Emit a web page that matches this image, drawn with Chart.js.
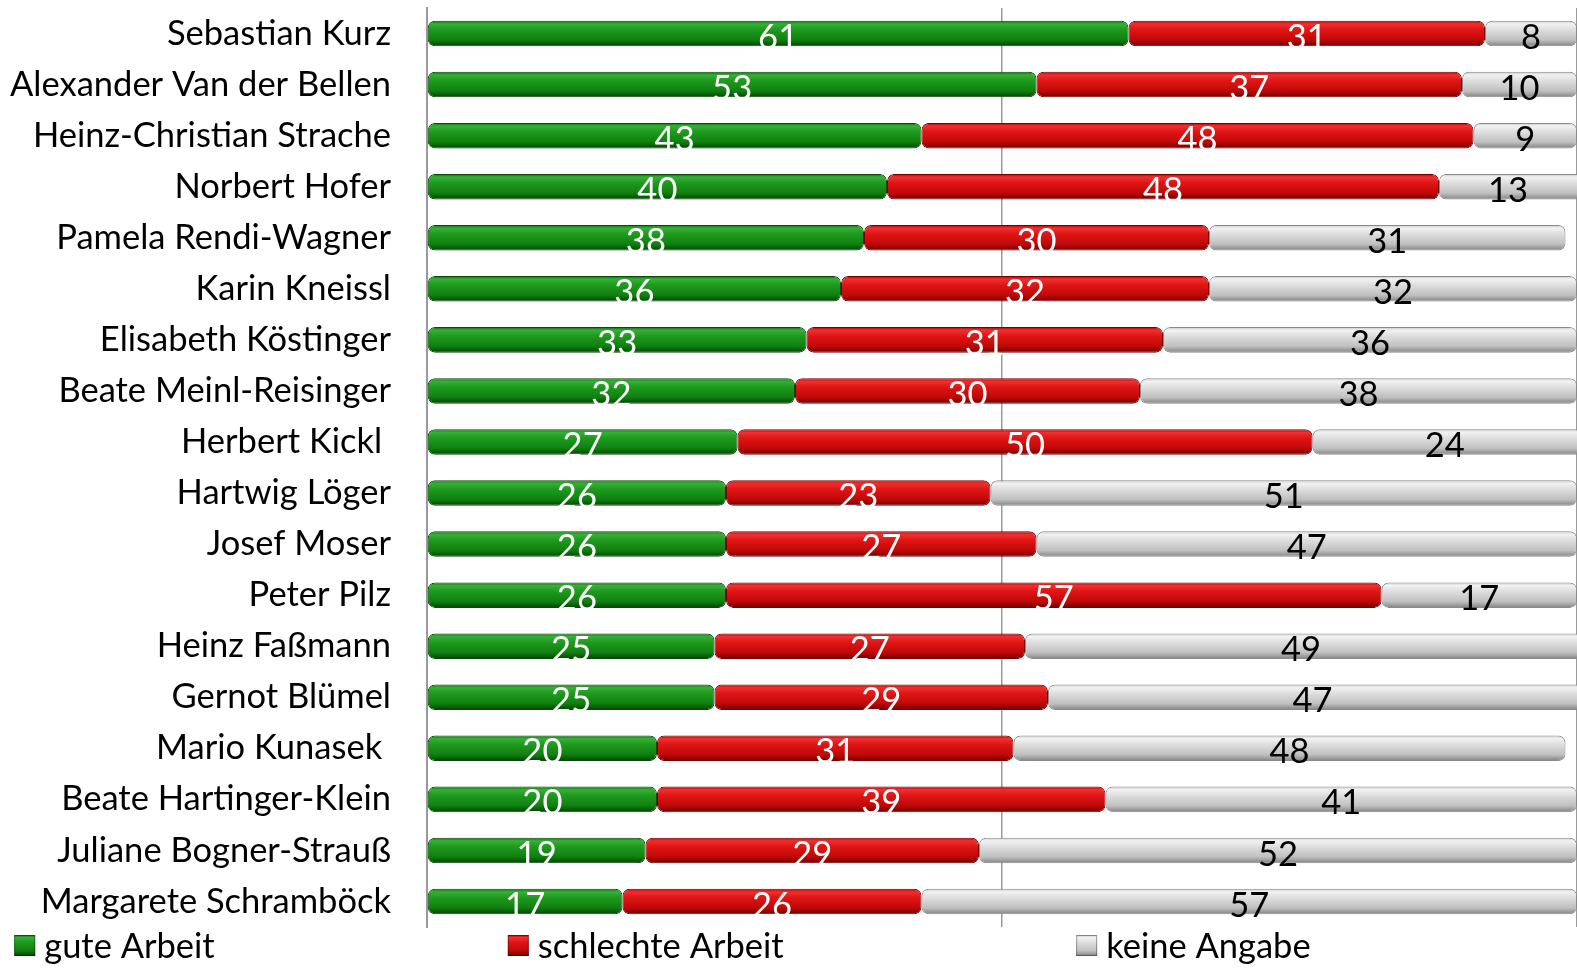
<!DOCTYPE html>
<html>
<head>
<meta charset="utf-8">
<title>Bewertung der Regierungsmitglieder</title>
<script src="https://cdn.jsdelivr.net/npm/chart.js@4.4.1/dist/chart.umd.min.js"></script>
<style>
  html, body { margin: 0; padding: 0; background: #fff; }
  #wrap { position: relative; width: 1577px; height: 968px; }
</style>
</head>
<body>
<div id="wrap"><canvas id="chart"></canvas></div>
<script>
const categories = [
  'Sebastian Kurz', 'Alexander Van der Bellen', 'Heinz-Christian Strache', 'Norbert Hofer',
  'Pamela Rendi-Wagner', 'Karin Kneissl', 'Elisabeth Köstinger', 'Beate Meinl-Reisinger',
  'Herbert Kickl ', 'Hartwig Löger', 'Josef Moser', 'Peter Pilz', 'Heinz Faßmann',
  'Gernot Blümel', 'Mario Kunasek ', 'Beate Hartinger-Klein', 'Juliane Bogner-Strauß',
  'Margarete Schramböck'
];
const seriesNames = ['gute Arbeit', 'schlechte Arbeit', 'keine Angabe'];
const goodWork = [61, 53, 43, 40, 38, 36, 33, 32, 27, 26, 26, 26, 25, 25, 20, 20, 19, 17];
const badWork  = [31, 37, 48, 48, 30, 32, 31, 30, 50, 23, 27, 57, 27, 29, 31, 39, 29, 26];
const noAnswer = [8, 10, 9, 13, 31, 32, 36, 38, 24, 51, 47, 17, 49, 47, 48, 41, 52, 57];

const FONT = 'Lato, "Open Sans", sans-serif';
const FONT_SIZE = 34.5;

// cylinder-like shading for each series
const greenStops = [[0, '#0d6a0d'], [0.12, '#36b036'], [0.35, '#1f9a1f'], [0.75, '#0f800f'], [1, '#044204']];
const redStops   = [[0, '#b00000'], [0.12, '#f03030'], [0.35, '#e01515'], [0.75, '#c00808'], [1, '#6e0000']];
const grayStops  = [[0, '#c4c4c4'], [0.12, '#f2f2f2'], [0.35, '#dedede'], [0.75, '#c0c0c0'], [1, '#828282']];

function barGradient(stops) {
  return (ctx) => {
    const chart = ctx.chart;
    const yScale = chart.scales.y;
    if (ctx.type !== 'data' || !yScale || !chart.chartArea) return stops[2][1];
    const yc = yScale.getPixelForValue(ctx.dataIndex);
    const h = yScale.height / categories.length * 0.5;
    const g = chart.ctx.createLinearGradient(0, yc - h / 2, 0, yc + h / 2);
    stops.forEach(([o, c]) => g.addColorStop(o, c));
    return g;
  };
}

const radius = { topLeft: 7, topRight: 7, bottomLeft: 7, bottomRight: 7 };

// value labels centred on the visible part of each segment
const valueLabels = {
  id: 'valueLabels',
  afterDatasetsDraw(chart) {
    const { ctx, chartArea } = chart;
    const right = Math.min(chartArea.right, chart.width);
    ctx.save();
    ctx.font = FONT_SIZE + 'px ' + FONT;
    ctx.textAlign = 'center';
    ctx.textBaseline = 'middle';
    chart.data.datasets.forEach((ds, di) => {
      const meta = chart.getDatasetMeta(di);
      ctx.fillStyle = di === 2 ? '#000' : '#fff';
      meta.data.forEach((el, i) => {
        const a = Math.max(chartArea.left, Math.min(el.base, el.x));
        const b = Math.min(right, Math.max(el.base, el.x));
        ctx.fillText(String(ds.data[i]), (a + b) / 2, el.y + 4);
      });
    });
    ctx.restore();
  }
};

// legend row under the plot
const bottomLegend = {
  id: 'bottomLegend',
  afterDraw(chart) {
    const { ctx } = chart;
    const stops = [greenStops, redStops, grayStops];
    const starts = [0.009, 0.322, 0.6824];
    const y = 945;
    ctx.save();
    ctx.font = FONT_SIZE + 'px ' + FONT;
    ctx.textBaseline = 'middle';
    ctx.textAlign = 'left';
    seriesNames.forEach((name, i) => {
      const x = chart.width * starts[i];
      const g = ctx.createLinearGradient(0, y - 10, 0, y + 11);
      stops[i].forEach(([o, c]) => g.addColorStop(o, c));
      ctx.fillStyle = g;
      ctx.fillRect(x, y - 10, 21, 21);
      ctx.strokeStyle = 'rgba(0,0,0,0.35)';
      ctx.lineWidth = 1;
      ctx.strokeRect(x + 0.5, y - 9.5, 20, 20);
      ctx.fillStyle = '#000';
      ctx.fillText(name, x + 30, y + 2);
    });
    ctx.restore();
  }
};

new Chart(document.getElementById('chart'), {
  type: 'bar',
  data: {
    labels: categories,
    datasets: [
      { label: seriesNames[0], data: goodWork, backgroundColor: barGradient(greenStops), borderColor: '#0a4a0a' },
      { label: seriesNames[1], data: badWork, backgroundColor: barGradient(redStops), borderColor: '#7a0000' },
      { label: seriesNames[2], data: noAnswer, backgroundColor: barGradient(grayStops), borderColor: '#8a8a8a' }
    ]
  },
  options: {
    indexAxis: 'y',
    responsive: true,
    maintainAspectRatio: false,
    animation: false,
    layout: { padding: { left: 0, right: -5, top: 8, bottom: 41 } },
    datasets: {
      bar: {
        categoryPercentage: 1,
        barPercentage: 0.5,
        borderWidth: 1,
        borderRadius: radius,
        borderSkipped: false
      }
    },
    scales: {
      x: {
        stacked: true,
        min: 0,
        max: 100,
        afterFit(scale) { scale.height = 0; scale.paddingLeft = 0; scale.paddingRight = 0; },
        ticks: { display: false, stepSize: 50 },
        grid: { color: '#9a9a9a', lineWidth: 1.5, drawTicks: false },
        border: { display: false }
      },
      y: {
        stacked: true,
        afterFit(scale) { scale.width = 427; scale.paddingTop = 0; scale.paddingBottom = 0; },
        grid: { display: false, drawTicks: false },
        border: { display: true, color: '#9a9a9a', width: 2 },
        ticks: { color: '#000', padding: 36, font: { family: FONT, size: FONT_SIZE } }
      }
    },
    plugins: {
      legend: { display: false },
      tooltip: { enabled: false }
    }
  },
  plugins: [valueLabels, bottomLegend]
});
</script>
</body>
</html>
